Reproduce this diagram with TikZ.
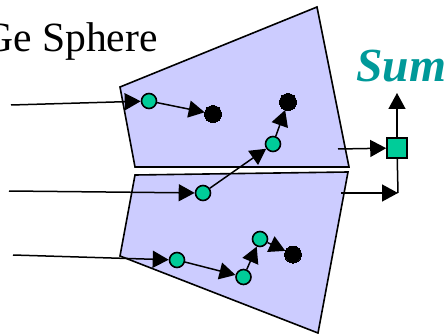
\documentclass[tikz,border=0pt]{standalone}
\usepackage{fontspec}
\setmainfont{Liberation Serif}
\usetikzlibrary{arrows.meta}
\definecolor{lav}{RGB}{204,204,255}
\definecolor{grn}{RGB}{0,204,153}
\definecolor{tealc}{RGB}{0,153,153}
\tikzset{
  panel/.style={draw=black,fill=lav,line width=1.6pt,line join=miter},
  gdot/.style={circle,draw=black,fill=grn,line width=1.6pt,minimum size=15pt,inner sep=0pt},
  bdot/.style={circle,draw=black,fill=black,line width=0pt,minimum size=17pt,inner sep=0pt},
  sq/.style={rectangle,draw=black,fill=grn,line width=1.6pt,minimum size=20pt,inner sep=0pt},
  arr/.style={draw=black,line width=1.5pt,-{Triangle[length=16pt,width=17pt]}},
  lbl/.style={inner sep=0pt,anchor=base west}
}
\begin{document}
\begin{tikzpicture}[x=1pt,y=-1pt]
\useasboundingbox (0,0) rectangle (447,334);
\clip (0,0) rectangle (447,334);
\fill[white] (0,0) rectangle (447,334);
\draw[panel] (120,87) -- (317,7) -- (349,167) -- (135,167) -- cycle;
\draw[panel] (135,175) -- (348,172) -- (318,333) -- (120,256) -- cycle;
\node[lbl,font=\fontsize{41.6pt}{45pt}\selectfont] (title) at (-17,52) {Ge Sphere};
\node[lbl,font=\fontsize{47.5pt}{50pt}\selectfont\bfseries\itshape,text=tealc] (sum) at (356,82) {Sum};
\node[gdot] (a1) at (149,101) {};
\node[bdot] (a2) at (213,114) {};
\node[gdot] (b1) at (203,193) {};
\node[gdot] (b2) at (273,144) {};
\node[bdot] (b3) at (288,102) {};
\node[gdot] (c1) at (177,260) {};
\node[gdot] (c2) at (243.5,277) {};
\node[gdot] (c3) at (260,239) {};
\node[bdot] (c4) at (293,254.5) {};
\node[sq] (s) at (397,148) {};
\coordinate (ia) at (11,105);
\coordinate (ib) at (9,191);
\coordinate (ic) at (13,255);
\coordinate (oa) at (338,149);
\coordinate (ob) at (341,193);
\coordinate (obt) at (398,193);
\coordinate (up) at (397,93);
\draw[arr] (ia) -- (a1);
\draw[arr] (a1) -- (a2);
\draw[arr] (ib) -- (b1);
\draw[arr] (b1) -- (b2);
\draw[arr] (b2) -- (b3);
\draw[arr] (ic) -- (c1);
\draw[arr] (c1) -- (c2);
\draw[arr] (c2) -- (c3);
\draw[arr] (c3) -- (c4);
\draw[arr] (oa) -- (s);
\draw[arr] (s) -- (up);
\draw[arr] (ob) -- (obt);
\draw[draw=black,line width=1.5pt] (s) -- (obt);
\end{tikzpicture}
\end{document}
